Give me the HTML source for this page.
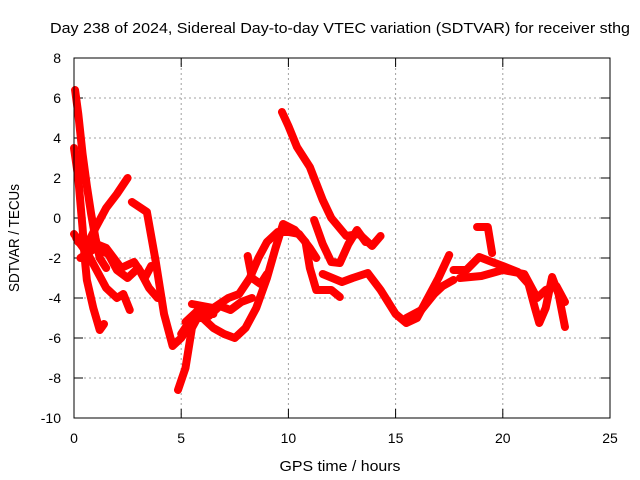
<!DOCTYPE html>
<html><head><meta charset="utf-8"><style>
body{margin:0;background:#fff;}
svg{display:block;font-family:"Liberation Sans",sans-serif;}
</style></head><body>
<svg id="c" width="640" height="480">
<text x="340" y="33" text-anchor="middle" font-size="15" textLength="580" lengthAdjust="spacingAndGlyphs">Day 238 of 2024, Sidereal Day-to-day VTEC variation (SDTVAR) for receiver sthg</text>
<text x="340" y="471" text-anchor="middle" font-size="15" textLength="121" lengthAdjust="spacingAndGlyphs">GPS time / hours</text>
<text transform="translate(19,238) rotate(-90)" text-anchor="middle" font-size="15" textLength="108" lengthAdjust="spacingAndGlyphs">SDTVAR / TECUs</text>
<g id="grid"></g><g id="ticks"></g><g id="series"></g>
<rect x="74" y="58" width="536" height="360" fill="none" stroke="#000" stroke-width="1"/>
</svg>
<script>
const xTicks=[0,5,10,15,20,25];
const yTicks=[-10,-8,-6,-4,-2,0,2,4,6,8];
const trackA=[[0.05,6.4],[0.2,5.2],[0.4,3.2],[0.6,1.6],[0.8,0.2],[1.0,-1],[1.2,-2],[1.5,-2.5]];
const trackB=[[0,3.5],[0.2,2],[0.4,-0.5],[0.5,-2],[0.6,-3.1],[0.9,-4.5],[1.2,-5.6],[1.4,-5.3]];
const trackC=[[0.1,-1],[0.5,-1.6],[1.0,-0.5],[1.5,0.5],[2.0,1.2],[2.5,2.0]];
const trackD=[[2.7,0.8],[3.4,0.3],[3.8,-2.1],[4.2,-4.8],[4.6,-6.4],[5.0,-6],[5.3,-5.5]];
const trackE=[[0,-0.8],[0.5,-1.5],[1.0,-2.5],[1.5,-3.5],[2.0,-4],[2.3,-3.8],[2.6,-4.6]];
const trackE2=[[0.3,-2],[1.0,-1.5],[1.6,-1.8],[2.0,-2.6],[2.5,-3],[3.0,-2.5],[3.5,-3.5],[3.9,-4]];
const trackE3=[[0.2,-1.2],[0.8,-1.2],[1.5,-1.5],[2.2,-2.5],[2.8,-2.2],[3.3,-3],[3.6,-2.4]];
const trackF=[[4.85,-8.6],[5.2,-7.5],[5.5,-5.5],[6.0,-4.5],[6.5,-4.8]];
const trackG=[[5.0,-5.8],[5.5,-5],[6.0,-5],[6.5,-5.5],[7.0,-5.8],[7.5,-6],[8.0,-5.5],[8.5,-4.5],[9.0,-3],[9.4,-1.5],[9.75,-0.3],[10.3,-0.6],[10.8,-1.2],[11.0,-2.5],[11.3,-3.6],[12.0,-3.6],[12.4,-3.95]];
const trackG2=[[5.5,-4.3],[6.5,-4.5],[7.2,-4],[7.7,-3.8],[8.2,-3],[8.6,-2],[9.0,-1.2],[9.5,-0.7],[10.0,-0.7],[10.5,-0.8],[11.0,-1.5],[11.3,-2]];
const trackG3=[[5.2,-5.2],[5.8,-4.6],[6.3,-4.9],[6.8,-4.4],[7.3,-4.6],[7.8,-4.2],[8.3,-4]];
const trackH=[[9.7,5.3],[10.0,4.6],[10.4,3.55],[11.0,2.55],[11.6,0.9],[12.0,0],[12.7,-0.9],[13.3,-0.8],[13.9,-1.4],[14.3,-0.9]];
const trackI=[[11.2,-0.1],[11.6,-1.3],[12.0,-2.2],[12.4,-2.25],[12.8,-1.3],[13.2,-0.6],[13.6,-1.2]];
const trackJ=[[8.1,-1.9],[8.3,-3],[8.7,-3.3],[9.0,-2.8]];
const trackK=[[11.6,-2.8],[12.5,-3.2],[13.0,-3.0],[13.7,-2.75],[14.3,-3.6],[15.0,-4.8],[15.5,-5.25],[16.0,-5],[16.5,-4],[17.0,-3],[17.5,-1.85]];
const trackK2=[[15.5,-5],[16.2,-4.6],[16.8,-3.8],[17.2,-3.4],[17.7,-3.1]];
const trackL=[[17.7,-2.6],[18.3,-2.6],[18.9,-1.95],[19.5,-2.2],[20.0,-2.4],[20.7,-2.7],[21.2,-3.3],[21.5,-4.5],[21.7,-5.25],[22.0,-4.5],[22.3,-2.95],[22.6,-3.8],[22.9,-5.45]];
const trackM=[[18.8,-0.45],[19.3,-0.45],[19.5,-1.75]];
const trackN=[[18.0,-3],[19.0,-2.9],[20.0,-2.6],[21.0,-2.8],[21.6,-4],[22.0,-3.6],[22.5,-3.4],[22.9,-4.2]];
const tracks=[trackA,trackB,trackC,trackD,trackE,trackE2,trackE3,trackF,trackG,trackG2,trackG3,trackH,trackI,trackJ,trackK,trackK2,trackL,trackM,trackN];
const NS="http://www.w3.org/2000/svg";
const X=t=>74+t*536/25, Y=v=>418-(v+10)*20;
const grid=document.getElementById('grid'),ticks=document.getElementById('ticks'),ser=document.getElementById('series');
function mk(tag,attrs,parent){const e=document.createElementNS(NS,tag);for(const k in attrs)e.setAttribute(k,attrs[k]);parent.appendChild(e);return e;}
xTicks.forEach(t=>{const x=X(t);
 if(t>0&&t<25){const g=mk('line',{x1:x,x2:x,y1:58,y2:418,stroke:'#a0a0a0','stroke-dasharray':'2,3'},grid);
 
 }
 mk('line',{x1:x,x2:x,y1:418,y2:409,stroke:'#000'},ticks);mk('line',{x1:x,x2:x,y1:58,y2:67,stroke:'#000'},ticks);
 const l=mk('text',{x:x,y:443,'text-anchor':'middle','font-size':14},ticks);l.textContent=t;
 
 
});
yTicks.forEach(v=>{const y=Y(v);
 if(v>-10&&v<8){const g=mk('line',{x1:74,x2:610,y1:y,y2:y,stroke:'#a0a0a0','stroke-dasharray':'2,3'},grid);
 
 }
 mk('line',{x1:74,x2:83,y1:y,y2:y,stroke:'#000'},ticks);mk('line',{x1:601,x2:610,y1:y,y2:y,stroke:'#000'},ticks);
 const l=mk('text',{x:61,y:y+5,'text-anchor':'end','font-size':14},ticks);l.textContent=v;
 
 
});
tracks.forEach(tr=>{
 const p=mk('polyline',{points:tr.map(d=>X(d[0])+','+Y(d[1])).join(' '),fill:'none',stroke:'#ff0000','stroke-width':8,'stroke-linejoin':'round','stroke-linecap':'round'},ser);
 
 
});
</script>
</body></html>
